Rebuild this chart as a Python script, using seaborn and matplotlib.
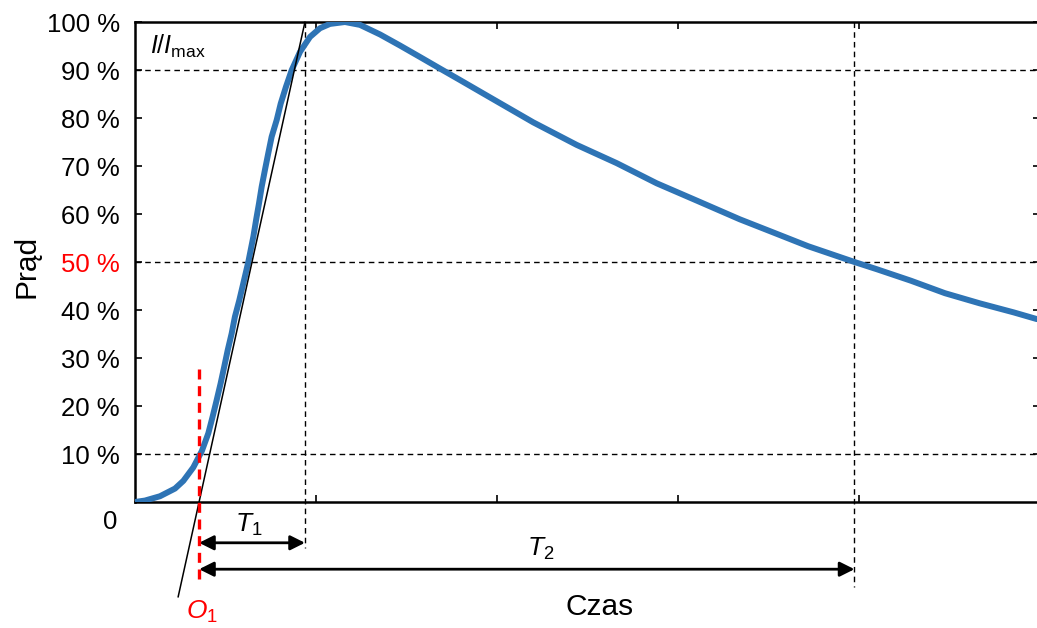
import numpy as np
import pandas as pd
import matplotlib
matplotlib.use("Agg")
import matplotlib.pyplot as plt
import seaborn as sns

# waveform: time (one tick = 10 units) and current in % of I_max
time = [0.0, 0.55, 1.38, 2.21, 2.67, 3.22, 3.69, 4.05, 4.29, 4.51, 4.73, 4.93, 5.12,
        5.34, 5.52, 5.76, 5.98, 6.26, 6.54, 6.69, 6.85, 7.0, 7.18, 7.36, 7.55, 7.83,
        8.05, 8.34, 8.66, 9.12, 9.67, 10.22, 10.77, 11.60, 12.43, 13.54, 14.64, 15.75,
        16.85, 17.96, 19.61, 22.0, 24.40, 26.61, 28.82, 31.03, 33.41, 35.30, 37.18,
        39.75, 40.98, 42.87, 44.75, 46.66, 48.55, 49.83]
current = [0.0, 0.3, 1.2, 2.8, 4.4, 7.2, 10.6, 14.3, 17.8, 21.2, 24.7, 28.2, 31.6,
           35.1, 38.6, 42.0, 45.5, 50.0, 55.3, 58.75, 62.2, 65.7, 69.2, 72.6, 76.1, 79.6,
           83.0, 86.5, 90.0, 93.8, 96.9, 98.7, 99.6, 100.0, 99.4, 97.4, 95.1, 92.7,
           90.3, 87.9, 84.3, 79.1, 74.4, 70.6, 66.4, 62.8, 58.9, 56.1, 53.3,
           50.0, 48.5, 46.1, 43.5, 41.4, 39.5, 38.1]

# characteristic points
o1 = 3.54        # virtual origin (tangent meets zero)
t1_end = 9.39    # tangent reaches 100 %
t2_end = 39.75   # tail falls to 50 %
ref_levels = [10, 50, 90]

yticks = [10, 20, 30, 40, 50, 60, 70, 80, 90, 100]
ytick_labels = [f"{v} %" for v in yticks]
xticks = [10, 20, 30, 40]

df = pd.DataFrame({"Czas": time, "Prad": current})

sns.set_theme(style="ticks")
plt.rcParams["font.family"] = ["Liberation Sans", "DejaVu Sans"]
plt.rcParams["mathtext.fontset"] = "custom"
plt.rcParams["mathtext.rm"] = "Liberation Sans"
plt.rcParams["mathtext.it"] = "Liberation Sans:italic"
plt.rcParams["text.color"] = "black"
plt.rcParams["xtick.color"] = "black"
plt.rcParams["ytick.color"] = "black"

fig = plt.figure(figsize=(10.37, 6.28), dpi=100)
ax = fig.add_axes([135 / 1037, 1 - 502 / 628, 905 / 1037, 480 / 628])

# dashed reference lines
for lev in ref_levels:
    ax.axhline(lev, color="black", lw=1.0, ls=(0, (4, 3)), zorder=1)
for xv, ybot in [(t1_end, -9.6), (t2_end, -17.7)]:
    ax.plot([xv, xv], [100, ybot], color="black", lw=1.0, ls=(0, (4, 3)),
            clip_on=False, zorder=1)

sns.lineplot(data=df, x="Czas", y="Prad", ax=ax, color="#2E74B5", lw=4.3,
             sort=False, estimator=None, zorder=3)

# tangent through O1 and the 100 % point
slope = 100 / (t1_end - o1)
ax.plot([o1 - 19.8 / slope, t1_end], [-19.8, 100], color="black", lw=1.1,
        clip_on=False, zorder=4)

# red dashed marker at O1
ax.plot([o1, o1], [27.7, -17.3], color="red", lw=2.4, ls=(0, (3, 2)),
        clip_on=False, zorder=5)

# T1 / T2 arrows
arrow = dict(arrowstyle="<|-|>", color="black", lw=2.0, mutation_scale=22,
             shrinkA=0, shrinkB=0)
ax.annotate("", xy=(t1_end, -8.5), xytext=(o1, -8.5), arrowprops=arrow,
            annotation_clip=False)
ax.annotate("", xy=(t2_end, -14.0), xytext=(o1, -14.0), arrowprops=arrow,
            annotation_clip=False)
ax.text(6.3, -6.2, r"$T_1$", fontsize=19, ha="center", va="baseline", clip_on=False)
ax.text(22.4, -11.3, r"$T_2$", fontsize=19, ha="center", va="baseline", clip_on=False)
ax.text(3.7, -24.4, r"$O_1$", fontsize=19, color="red", ha="center", va="baseline",
        clip_on=False)

ax.text(0.85, 93.3, r"$I/I_{\mathrm{max}}$", fontsize=18, ha="left", va="baseline")
ax.text(-1.38, -4.1, "0", fontsize=18.5, ha="center", va="center", clip_on=False)

ax.set_xlim(0, 50)
ax.set_ylim(0, 100)
ax.set_xticks(xticks)
ax.set_yticks(yticks)
ax.set_yticklabels(ytick_labels)
ax.tick_params(axis="both", direction="in", length=5, width=1.2, top=True, right=True,
               labelbottom=False, color="black")
ax.tick_params(axis="y", labelsize=18.5, pad=11)
for lbl in ax.get_yticklabels():
    if lbl.get_text() == "50 %":
        lbl.set_color("red")
for side in ["left", "bottom", "top", "right"]:
    ax.spines[side].set_linewidth(1.8)
    ax.spines[side].set_color("black")

ax.set_xlabel("")
ax.set_ylabel("")
ax.text(-0.12, 0.49, "Prąd", transform=ax.transAxes, rotation=90, fontsize=21.5,
        ha="center", va="center")
ax.text(0.513, -0.219, "Czas", transform=ax.transAxes, fontsize=21.5,
        ha="center", va="center")

fig.savefig("out.png", dpi=100)
